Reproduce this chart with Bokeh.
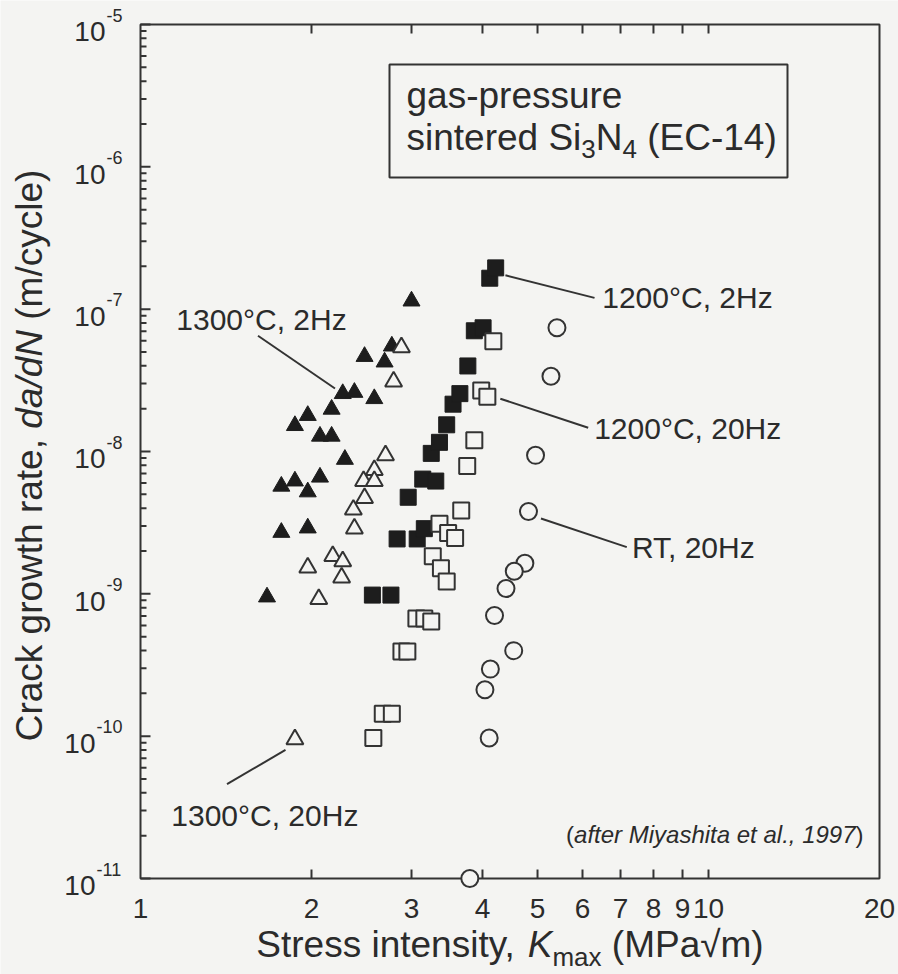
import math

from bokeh.embed import file_html
from bokeh.models import Label, Range1d
from bokeh.plotting import figure
from bokeh.resources import INLINE

# ---------------------------------------------------------------------------
# Fatigue crack growth data, gas-pressure sintered Si3N4 (EC-14)
# K_max in MPa*sqrt(m), da/dN in m/cycle
# ---------------------------------------------------------------------------
k_1300_2hz = [1.67, 1.77, 1.97, 1.77, 1.87, 2.07, 1.97, 2.29, 2.07, 2.17,
              1.87, 1.97, 2.17, 2.27, 2.38, 2.58, 2.48, 2.69, 2.77, 3.00]
rate_1300_2hz = [9.5e-10, 2.7e-9, 2.9e-9, 5.7e-9, 6.2e-9, 6.6e-9, 5.2e-9, 8.8e-9, 1.28e-8, 1.28e-8,
                 1.52e-8, 1.79e-8, 1.98e-8, 2.55e-8, 2.6e-8, 2.35e-8, 4.65e-8, 4.25e-8, 5.5e-8, 1.14e-7]

k_1300_20hz = [2.88, 2.79, 2.70, 2.58, 2.47, 2.58, 2.48, 2.37, 2.38, 2.18,
               2.27, 1.97, 2.26, 2.06, 1.87]
rate_1300_20hz = [5.4e-8, 3.1e-8, 9.4e-9, 7.4e-9, 6.2e-9, 6.2e-9, 4.7e-9, 3.9e-9, 2.87e-9, 1.84e-9,
                  1.69e-9, 1.53e-9, 1.30e-9, 9.2e-10, 9.5e-11]

k_1200_2hz = [2.56, 2.76, 2.83, 3.07, 3.16, 2.96, 3.14, 3.31, 3.25, 3.36,
              3.46, 3.55, 3.65, 3.77, 3.87, 4.01, 4.12, 4.22]
rate_1200_2hz = [9.8e-10, 9.8e-10, 2.43e-9, 2.43e-9, 2.87e-9, 4.77e-9, 6.4e-9, 6.2e-9, 9.7e-9, 1.16e-8,
                 1.54e-8, 2.15e-8, 2.55e-8, 3.99e-8, 7.05e-8, 7.4e-8, 1.65e-7, 1.95e-7]

k_1200_20hz = [4.18, 3.98, 4.08, 3.87, 3.76, 3.67, 3.36, 3.48, 3.58, 3.27,
               3.38, 3.46, 3.06, 3.16, 3.25, 2.88, 2.95, 2.67, 2.77, 2.57]
rate_1200_20hz = [5.96e-8, 2.68e-8, 2.42e-8, 1.2e-8, 7.9e-9, 3.85e-9, 3.11e-9, 2.68e-9, 2.47e-9, 1.84e-9,
                  1.51e-9, 1.22e-9, 6.7e-10, 6.7e-10, 6.4e-10, 3.93e-10, 3.93e-10, 1.44e-10, 1.44e-10, 9.7e-11]

k_rt_20hz = [5.41, 5.28, 4.96, 4.82, 4.75, 4.55, 4.40, 4.20, 4.54, 4.13, 4.04, 4.11, 3.80]
rate_rt_20hz = [7.4e-8, 3.38e-8, 9.4e-9, 3.79e-9, 1.64e-9, 1.44e-9, 1.09e-9, 7.05e-10, 3.99e-10,
                2.96e-10, 2.12e-10, 9.7e-11, 1e-11]

# axis ticks
k_ticks = [1, 2, 3, 4, 5, 6, 7, 8, 9, 10, 20]
k_tick_labels = ["1", "2", "3", "4", "5", "6", "7", "8", "9", "10", "20"]
rate_exponents = [-5, -6, -7, -8, -9, -10, -11]
K_MIN, K_MAX = 1, 20
RATE_MIN, RATE_MAX = 1e-11, 1e-5

# ---------------------------------------------------------------------------
FONT = "Liberation Sans"
INK = "#2b2b2b"
LINE = "#333333"
MARK = "#1d1d1d"
PAPER = "#f4f4f2"

W, H = 898, 974
FL, FR, FT, FB = 140, 879, 24, 878   # plot box edges in canvas pixels
DEC_X = (FR - FL) / math.log10(K_MAX / K_MIN)
DEC_Y = (FB - FT) / math.log10(RATE_MAX / RATE_MIN)


def to_k(px):
    """canvas x pixel -> K value"""
    return K_MIN * 10 ** ((px - FL) / DEC_X)


def to_rate(py):
    """canvas y pixel -> da/dN value"""
    return RATE_MAX * 10 ** (-(py - FT) / DEC_Y)


def px_of(k):
    return FL + DEC_X * math.log10(k / K_MIN)


def py_of(rate):
    return FT + DEC_Y * math.log10(RATE_MAX / rate)


# the drawing area spans the whole canvas so that margin text is not clipped;
# the log axes are drawn by hand around the plot box
p = figure(width=W, height=H, x_axis_type="log", y_axis_type="log",
           x_range=Range1d(to_k(0), to_k(W)), y_range=Range1d(to_rate(H), to_rate(0)),
           x_axis_location=None, y_axis_location=None,
           output_backend="svg", toolbar_location=None,
           min_border=0, background_fill_color=PAPER, border_fill_color=PAPER)
p.grid.visible = False
p.outline_line_color = None

# Arial / Liberation Sans advance widths (per 1000 em)
ADV = {' ': 278, '(': 333, ')': 333, ',': 278, '-': 333, '.': 278, '/': 278, ';': 278,
       'C': 722, 'E': 667, 'H': 722, 'K': 667, 'M': 833, 'N': 722, 'P': 667, 'R': 722,
       'S': 667, 'T': 611, 'a': 556, 'c': 500, 'd': 556, 'e': 556, 'f': 278, 'g': 556,
       'h': 556, 'i': 222, 'k': 500, 'l': 222, 'm': 833, 'n': 556, 'o': 556, 'p': 556,
       'r': 333, 's': 500, 't': 278, 'u': 556, 'w': 722, 'x': 500, 'y': 500, 'z': 500,
       '°': 400, '√': 549}
CAP_MID = 0.35   # cap-height centre above the baseline, in em


def text_width(s, size):
    return sum(ADV.get(ch, 556) for ch in s) * size / 1000.0


def label(px, py, text, size, style="normal", align="left", angle=0.0):
    """Text whose baseline starts at canvas pixel (px, py); labels are centred
    on their anchor, so the anchor is moved to the middle of the cap height."""
    lead = text_width(text[:len(text) - len(text.lstrip(" "))], size)
    body = text.strip(" ")
    if angle:
        ax, ay = px - CAP_MID * size, py - lead
    else:
        ax, ay = px + lead, py - CAP_MID * size
    p.add_layout(Label(x=to_k(ax), y=to_rate(ay), text=body, angle=angle,
                       text_font=FONT, text_font_size=f"{size}px",
                       text_font_style=style, text_color=INK,
                       text_align=align, text_baseline="middle"))


def run(px, py, pieces, angle=0.0):
    """Lay out mixed-style text pieces along one baseline starting at canvas (px, py)."""
    pos = 0.0
    for text, size, style, shift in pieces:
        if angle:
            label(px + shift, py - pos, text, size, style, angle=angle)
        else:
            label(px + pos, py + shift, text, size, style)
        pos += text_width(text, size)
    return pos


# ---- plot box and ticks ---------------------------------------------------
p.quad(left=[K_MIN], right=[K_MAX], bottom=[RATE_MIN], top=[RATE_MAX],
       fill_color=None, line_color=LINE, line_width=2)

inner = [k for k in k_ticks if K_MIN < k < K_MAX]
p.segment(inner, [RATE_MIN] * len(inner), inner, [to_rate(FB - 9)] * len(inner),
          line_color=LINE, line_width=2)
p.segment(inner, [RATE_MAX] * len(inner), inner, [to_rate(FT + 9)] * len(inner),
          line_color=LINE, line_width=2)

majors = [10.0 ** e for e in rate_exponents]
minors = [m * 10.0 ** e for e in range(-11, -5) for m in range(2, 10)]
p.segment([K_MIN] * len(majors), majors, [to_k(FL + 10)] * len(majors), majors,
          line_color=LINE, line_width=2)
p.segment([K_MIN] * len(minors), minors, [to_k(FL + 6)] * len(minors), minors,
          line_color=LINE, line_width=2)

# tick labels
for k, t in zip(k_ticks, k_tick_labels):
    label(px_of(k), FB + 40, t, 28, align="center")

for e in rate_exponents:
    ty = py_of(10.0 ** e)
    sup = f"-{abs(e)}"
    ws = text_width(sup, 18)
    label(FL - 18 - ws, ty - 3, sup, 18)
    label(FL - 19 - ws, ty + 17, "10", 28, align="right")

# axis titles
xt_pieces = [("Stress intensity, ", 37, "normal", 0), ("K", 37, "italic", 0),
             ("max", 26, "normal", 9), (" (MPa√m)", 37, "normal", 0)]
xt_w = sum(text_width(t, s) for t, s, _, _ in xt_pieces)
run((FL + FR) / 2 - xt_w / 2, 957, xt_pieces)

yt_pieces = [("Crack growth rate, ", 37, "normal", 0), ("da/dN", 37, "italic", 0),
             (" (m/cycle)", 37, "normal", 0)]
yt_w = sum(text_width(t, s) for t, s, _, _ in yt_pieces)
run(42, 455 + yt_w / 2, yt_pieces, angle=math.pi / 2)

# ---- material box ---------------------------------------------------------
p.quad(left=[to_k(389)], right=[to_k(787)], top=[to_rate(64)], bottom=[to_rate(177)],
       fill_color=PAPER, line_color=LINE, line_width=2)
run(406, 108, [("gas-pressure", 37, "normal", 0)])
run(406, 150, [("sintered Si", 37, "normal", 0), ("3", 26, "normal", 8),
               ("N", 37, "normal", 0), ("4", 26, "normal", 8),
               (" (EC-14)", 37, "normal", 0)])

# ---- data markers ---------------------------------------------------------
p.scatter(k_1300_2hz, rate_1300_2hz, marker="triangle", size=17,
          fill_color=MARK, line_color=MARK, line_width=1)
p.scatter(k_1300_20hz, rate_1300_20hz, marker="triangle", size=17,
          fill_color=PAPER, line_color=LINE, line_width=2)
p.scatter(k_1200_2hz, rate_1200_2hz, marker="square", size=16,
          fill_color=MARK, line_color=MARK, line_width=1)
p.scatter(k_1200_20hz, rate_1200_20hz, marker="square", size=16,
          fill_color=PAPER, line_color=LINE, line_width=2)
p.scatter(k_rt_20hz, rate_rt_20hz, marker="circle", size=17,
          fill_color=PAPER, line_color=LINE, line_width=2)

# ---- series annotations with leader lines --------------------------------
leaders_x0 = [1.61, 4.39, 4.30, 5.07, 1.80]
leaders_y0 = [6.5e-8, 1.73e-7, 2.35e-8, 3.38e-9, 8.0e-11]
leaders_x1 = [2.20, 6.30, 6.14, 7.18, 1.42]
leaders_y1 = [2.77e-8, 1.2e-7, 1.47e-8, 2.13e-9, 4.6e-11]
p.segment(leaders_x0, leaders_y0, leaders_x1, leaders_y1, line_color=LINE, line_width=2)

series_labels = [("1300°C, 2Hz", 2.307, 7.16e-8, "right"),
                 ("1200°C, 2Hz", 6.5, 1.02e-7, "left"),
                 ("1200°C, 20Hz", 6.29, 1.22e-8, "left"),
                 ("RT, 20Hz", 7.33, 1.78e-9, "left"),
                 ("1300°C, 20Hz", 1.133, 2.34e-11, "left")]
for text, k, rate, align in series_labels:
    label(px_of(k), py_of(rate), text, 30, align=align)

# ---- source note ----------------------------------------------------------
note = [("(", 24, "normal", 0), ("after Miyashita et al., 1997", 24, "italic", 0), (")", 24, "normal", 0)]
note_w = sum(text_width(t, s) for t, s, _, _ in note)
run(863 - note_w, 842, note)

open("out.html", "w").write(file_html(p, INLINE))
